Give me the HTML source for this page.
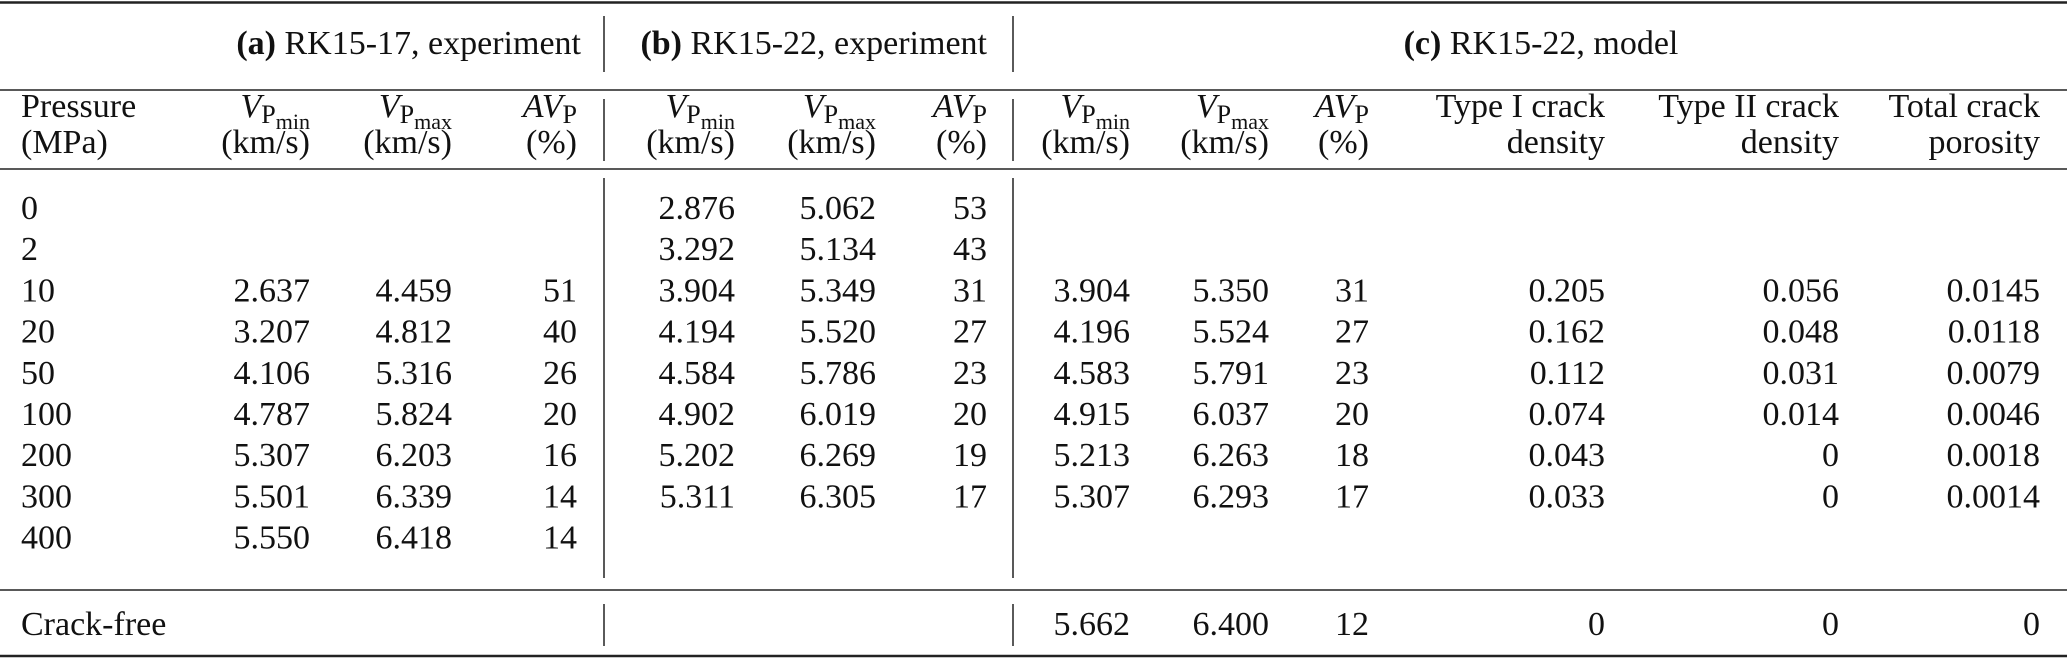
<!DOCTYPE html>
<html><head><meta charset="utf-8"><style>
html,body{margin:0;padding:0;background:#fff;}
svg{display:block;font-family:"Liberation Serif",serif;font-size:34px;fill:#111;}
</style></head><body>
<svg width="2067" height="659" viewBox="0 0 2067 659">
<g stroke="#222">
<line x1="0" x2="2067" y1="2.5" y2="2.5" stroke-width="2.5"/>
<line x1="0" x2="2067" y1="90" y2="90" stroke-width="1.5"/>
<line x1="0" x2="2067" y1="169" y2="169" stroke-width="1.5"/>
<line x1="0" x2="2067" y1="590" y2="590" stroke-width="1.5"/>
<line x1="0" x2="2067" y1="656" y2="656" stroke-width="2.5"/>
<line x1="604" x2="604" y1="16" y2="72" stroke-width="1.5"/>
<line x1="604" x2="604" y1="99" y2="161" stroke-width="1.5"/>
<line x1="604" x2="604" y1="178" y2="578" stroke-width="1.5"/>
<line x1="604" x2="604" y1="604" y2="646" stroke-width="1.5"/>
<line x1="1013" x2="1013" y1="16" y2="72" stroke-width="1.5"/>
<line x1="1013" x2="1013" y1="99" y2="161" stroke-width="1.5"/>
<line x1="1013" x2="1013" y1="178" y2="578" stroke-width="1.5"/>
<line x1="1013" x2="1013" y1="604" y2="646" stroke-width="1.5"/>
</g>
<g>
<text x="581" y="54" text-anchor="end"><tspan font-weight="bold">(a)</tspan> RK15-17, experiment</text>
<text x="987" y="54" text-anchor="end"><tspan font-weight="bold">(b)</tspan> RK15-22, experiment</text>
<text x="1541" y="54" text-anchor="middle"><tspan font-weight="bold">(c)</tspan> RK15-22, model</text>
</g>
<g id="colheads"></g>
<g id="body"></g>
</svg>
<script>
const pressures = ["0","2","10","20","50","100","200","300","400"];
const aVmin = ["","","2.637","3.207","4.106","4.787","5.307","5.501","5.550"];
const aVmax = ["","","4.459","4.812","5.316","5.824","6.203","6.339","6.418"];
const aAV = ["","","51","40","26","20","16","14","14"];
const bVmin = ["2.876","3.292","3.904","4.194","4.584","4.902","5.202","5.311",""];
const bVmax = ["5.062","5.134","5.349","5.520","5.786","6.019","6.269","6.305",""];
const bAV = ["53","43","31","27","23","20","19","17",""];
const cVmin = ["","","3.904","4.196","4.583","4.915","5.213","5.307",""];
const cVmax = ["","","5.350","5.524","5.791","6.037","6.263","6.293",""];
const cAV = ["","","31","27","23","20","18","17",""];
const cType1 = ["","","0.205","0.162","0.112","0.074","0.043","0.033",""];
const cType2 = ["","","0.056","0.048","0.031","0.014","0","0",""];
const cPoro = ["","","0.0145","0.0118","0.0079","0.0046","0.0018","0.0014",""];
const crackFree = ["5.662","6.400","12","0","0","0"];

const NS="http://www.w3.org/2000/svg";
const cols=[aVmin,aVmax,aAV,bVmin,bVmax,bAV,cVmin,cVmax,cAV,cType1,cType2,cPoro];
const rights=[310,452,577,735,876,987,1130,1269,1369,1605,1839,2040];
const body=document.getElementById('body');
function txt(parent,x,y,s,anchor){
  const t=document.createElementNS(NS,'text');
  t.setAttribute('x',x);t.setAttribute('y',y);
  t.setAttribute('text-anchor',anchor);
  t.textContent=s;parent.appendChild(t);return t;
}
const y0=219, step=41.2;
pressures.forEach((p,i)=>{
  const y=y0+i*step;
  const t=txt(body,21,y,p,'start');
  
  
  cols.forEach((c,j)=>{
    if(c[i]!==""){
      const e=txt(body,rights[j],y,c[i],'end');
      
      
    }
  });
});
const cf=txt(body,21,635,"Crack-free",'start');


crackFree.forEach((v,k)=>{
  const e=txt(body,rights[6+k],635,v,'end');
  
  
});

const heads=document.getElementById('colheads');
const h1=117,h2=153;
let t=txt(heads,21,h1,"Pressure",'start');


t=txt(heads,21,h2,"(MPa)",'start');


function vp(x,sub){
  const e=document.createElementNS(NS,'text');
  e.setAttribute('x',x);e.setAttribute('y',h1);e.setAttribute('text-anchor','end');
  e.innerHTML='<tspan font-style="italic">V</tspan><tspan font-size="26" dy="6">P</tspan><tspan font-size="22" dy="6">'+sub+'</tspan>';
  heads.appendChild(e);return e;
}
function av(x){
  const e=document.createElementNS(NS,'text');
  e.setAttribute('x',x);e.setAttribute('y',h1);e.setAttribute('text-anchor','end');
  e.innerHTML='<tspan font-style="italic">AV</tspan><tspan font-size="26" dy="6">P</tspan>';
  heads.appendChild(e);return e;
}
[[0,1,2],[3,4,5],[6,7,8]].forEach(g=>{
  let e=vp(rights[g[0]],'min');
  
  
  e=txt(heads,rights[g[0]],h2,"(km/s)",'end');
  
  
  e=vp(rights[g[1]],'max');
  
  
  e=txt(heads,rights[g[1]],h2,"(km/s)",'end');
  
  
  e=av(rights[g[2]]);
  
  
  e=txt(heads,rights[g[2]],h2,"(%)",'end');
  
  
});
[["Type I crack","density"],["Type II crack","density"],["Total crack","porosity"]].forEach((h,k)=>{
  let e=txt(heads,rights[9+k],h1,h[0],'end');
  
  
  e=txt(heads,rights[9+k],h2,h[1],'end');
  
  
});
</script>
</body></html>
